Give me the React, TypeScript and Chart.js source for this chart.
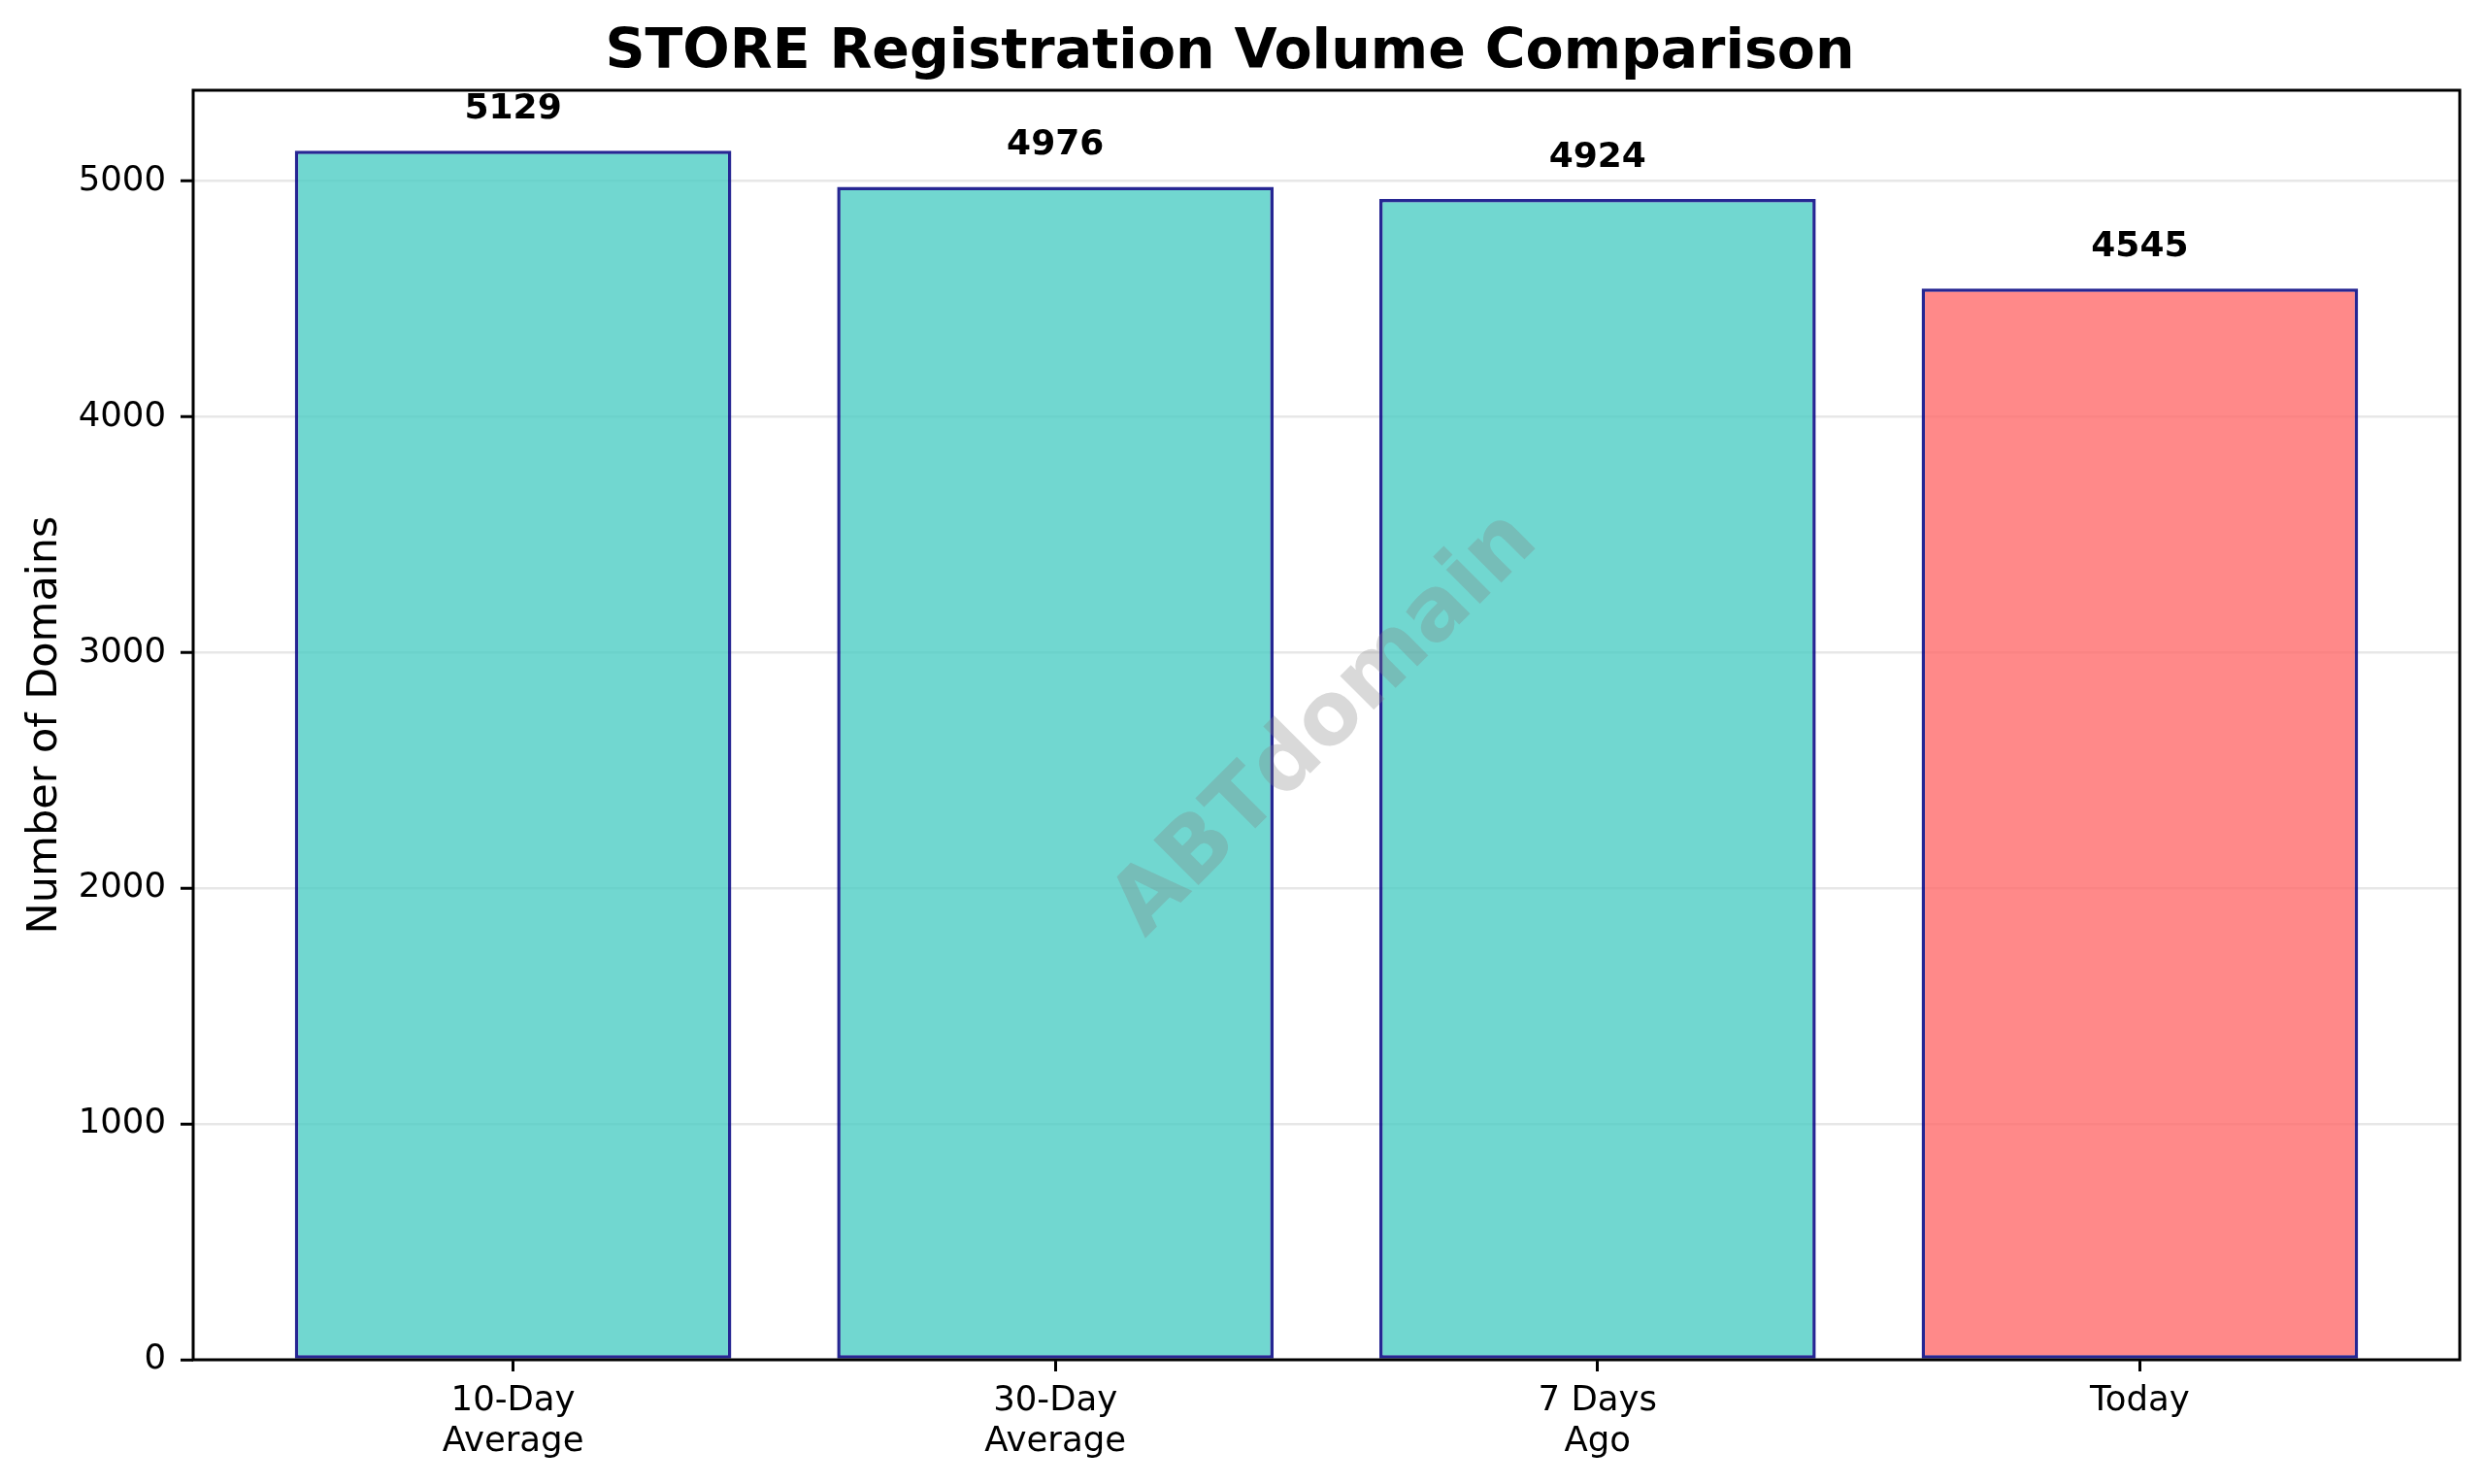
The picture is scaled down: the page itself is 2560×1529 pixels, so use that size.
import React, { useEffect, useRef } from 'react';
import { Chart, registerables } from 'chart.js';

Chart.register(...registerables);

// ---- data ----
const categories = ['10-Day\nAverage', '30-Day\nAverage', '7 Days\nAgo', 'Today'];
const values = [5129, 4976, 4924, 4545];
const barColors = [
  'rgba(78,205,196,0.8)',
  'rgba(78,205,196,0.8)',
  'rgba(78,205,196,0.8)',
  'rgba(255,107,107,0.8)',
];
const yTickValues = [0, 1000, 2000, 3000, 4000, 5000];
const titleText = 'STORE Registration Volume Comparison';
const yLabelText = 'Number of Domains';
const watermarkText = 'ABTdomain';

const FONT = "'DejaVu Sans', sans-serif";

export default function App() {
  const canvasRef = useRef<HTMLCanvasElement | null>(null);

  useEffect(() => {
    document.body.style.margin = '0';
    document.body.style.overflow = 'hidden';
    const canvas = canvasRef.current;
    if (!canvas) return;

    const yMax = Math.max(...values) * 1.05;
    const halfBar = 0.4;
    const span = values.length - 1 + 2 * halfBar;
    const xMin = -halfBar - 0.05 * span;
    const xMax = values.length - 1 + halfBar + 0.05 * span;

    const overlayPlugin = {
      id: 'overlay',
      afterDatasetsDraw(chart: any) {
        const { ctx, chartArea } = chart;
        const xs = chart.scales.x;
        const ys = chart.scales.y;
        ctx.save();
        // frame (spines)
        ctx.strokeStyle = '#000';
        ctx.lineWidth = 3;
        ctx.strokeRect(chartArea.left, chartArea.top, chartArea.right - chartArea.left, chartArea.bottom - chartArea.top);
        // value labels
        ctx.fillStyle = '#000';
        ctx.font = `bold 36px ${FONT}`;
        ctx.textAlign = 'center';
        ctx.textBaseline = 'alphabetic';
        values.forEach((v, i) => {
          ctx.fillText(String(v), xs.getPixelForValue(i), ys.getPixelForValue(v) - 33);
        });
        // watermark
        ctx.translate((chartArea.left + chartArea.right) / 2, (chartArea.top + chartArea.bottom) / 2);
        ctx.rotate(-Math.PI / 4);
        ctx.font = `bold 90px ${FONT}`;
        ctx.fillStyle = 'rgba(128,128,128,0.3)';
        ctx.textAlign = 'center';
        ctx.textBaseline = 'middle';
        ctx.fillText(watermarkText, 0, 0);
        ctx.restore();
      },
    };

    const chart = new Chart(canvas, {
      type: 'bar',
      data: {
        datasets: [
          {
            data: values.map((v, i) => ({ x: i, y: v })),
            backgroundColor: barColors,
            borderColor: 'rgba(0,0,128,0.85)',
            borderWidth: 3.5,
            borderSkipped: false,
            barPercentage: 1,
            categoryPercentage: 0.805,
          },
        ],
      },
      options: {
        responsive: false,
        animation: false,
        devicePixelRatio: 1,
        layout: { padding: { left: 0, right: 26, top: 0, bottom: 0 } },
        plugins: {
          legend: { display: false },
          tooltip: { enabled: false },
          title: {
            display: true,
            text: titleText,
            color: '#000',
            font: { family: FONT, size: 57, weight: 'bold', lineHeight: 1.2 },
            padding: { top: 21, bottom: 3.6 },
          },
        },
        scales: {
          x: {
            type: 'linear',
            min: xMin,
            max: xMax,
            offset: false,
            afterBuildTicks: (axis: any) => {
              axis.ticks = categories.map((_, i) => ({ value: i }));
            },
            afterFit: (s: any) => {
              s.height = 128;
            },
            ticks: {
              autoSkip: false,
              maxRotation: 0,
              minRotation: 0,
              color: '#000',
              font: { family: FONT, size: 35.5, lineHeight: 1.2 },
              padding: 9,
              callback: (value: any) => {
                const c = categories[Math.round(Number(value))];
                return c ? c.split('\n') : '';
              },
            },
            grid: {
              offset: false,
              drawOnChartArea: false,
              drawTicks: true,
              tickLength: 12,
              tickColor: '#000',
              tickWidth: 3,
            },
            border: { display: false },
          },
          y: {
            type: 'linear',
            min: 0,
            max: yMax,
            afterBuildTicks: (axis: any) => {
              axis.ticks = yTickValues.map((v) => ({ value: v }));
            },
            afterFit: (s: any) => {
              s.width = 199;
            },
            ticks: {
              color: '#000',
              font: { family: FONT, size: 35.5 },
              padding: 15,
              callback: (value: any) => String(value),
            },
            grid: {
              color: 'rgba(176,176,176,0.3)',
              lineWidth: 2.5,
              drawTicks: true,
              tickLength: 13,
              tickColor: '#000',
              tickWidth: 3,
            },
            border: { display: false },
            title: {
              display: true,
              text: yLabelText,
              color: '#000',
              font: { family: FONT, size: 43, lineHeight: 1.2 },
              padding: { top: 21, bottom: 0 },
            },
          },
        },
      },
      plugins: [overlayPlugin],
    } as any);

    return () => {
      chart.destroy();
    };
  }, []);

  return (
    <div style={{ width: 2560, height: 1529, background: '#fff' }}>
      <canvas ref={canvasRef} width={2560} height={1529} style={{ display: 'block' }} />
    </div>
  );
}
